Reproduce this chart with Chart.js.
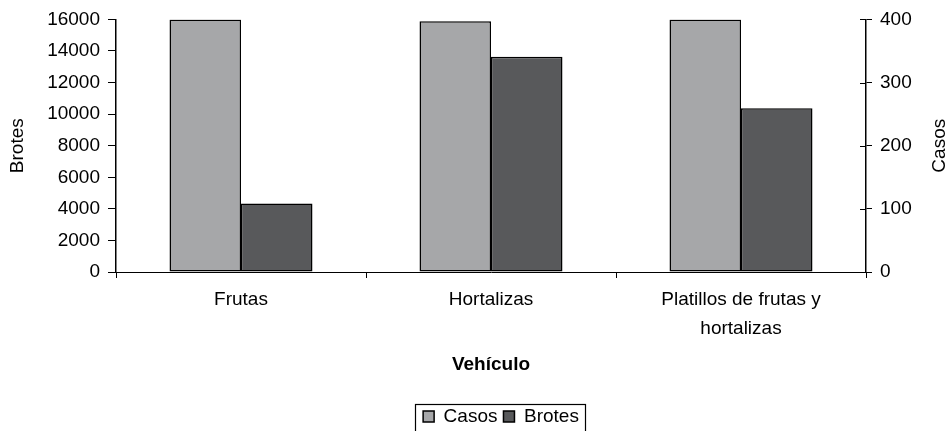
<!DOCTYPE html>
<html>
<head>
<meta charset="utf-8">
<script src="https://cdn.jsdelivr.net/npm/chart.js@4.4.0/dist/chart.umd.min.js"></script>
<style>
  html, body { margin: 0; padding: 0; background: #fff; }
</style>
</head>
<body>
<canvas id="vehiculoChart" width="950" height="431"></canvas>
<script>
// datos
const vehiculos = ['Frutas', 'Hortalizas', ['Platillos de frutas y', 'hortalizas']];
const casos = [400, 397, 400];
const brotes = [4340, 13630, 10380];
const brotesMax = 16000, brotesStep = 2000;
const casosMax = 400, casosStep = 100;

const fuente = "'Liberation Sans', Arial, sans-serif";
const tam = 19;
const negro = '#000';

// marco de la leyenda, titulo derecho y marcas del eje derecho hacia dentro
const extras = {
  id: 'extras',
  afterLayout(chart) {
    const lg = chart.legend;
    const dx = 26, dy = 5;
    lg.left += dx; lg.right += dx;
    lg.top += dy; lg.bottom += dy;
    (lg.legendHitBoxes || []).forEach(h => { h.left += dx; });
  },
  afterDraw(chart) {
    const c = chart.ctx;
    const y1 = chart.scales.y1;
    c.save();
    c.strokeStyle = negro;
    c.lineWidth = 1;
    y1.ticks.forEach(t => {
      const py = Math.round(y1.getPixelForValue(t.value)) + 0.5;
      c.beginPath();
      c.moveTo(y1.left - 6, py);
      c.lineTo(y1.left, py);
      c.stroke();
    });
    const hb = chart.legend.legendHitBoxes;
    if (hb && hb.length) {
      const x0 = Math.min(...hb.map(h => h.left)) - 8;
      const x1 = Math.max(...hb.map(h => h.left + h.width)) + 6;
      const yt = Math.min(...hb.map(h => h.top)) - 3;
      c.lineWidth = 1.2;
      c.strokeRect(Math.round(x0) + 0.5, Math.round(yt) + 0.5, Math.round(x1 - x0), 60);
    }
    // titulo del eje derecho, leido de abajo hacia arriba
    const a = chart.chartArea;
    c.translate(940, (a.top + a.bottom) / 2);
    c.rotate(-Math.PI / 2);
    c.fillStyle = negro;
    c.font = tam + 'px ' + fuente;
    c.textAlign = 'center';
    c.textBaseline = 'middle';
    c.fillText('Casos', 0, 0);
    c.restore();
  }
};

const ctx = document.getElementById('vehiculoChart').getContext('2d');
new Chart(ctx, {
  type: 'bar',
  data: {
    labels: vehiculos,
    datasets: [{
      label: 'Casos',
      data: casos,
      yAxisID: 'y1',
      backgroundColor: '#a6a7a9',
      borderColor: negro,
      borderWidth: 1.5,
      borderSkipped: false
    }, {
      label: 'Brotes',
      data: brotes,
      yAxisID: 'y',
      backgroundColor: '#58595b',
      borderColor: negro,
      borderWidth: 1.5,
      borderSkipped: false
    }]
  },
  options: {
    responsive: false,
    animation: false,
    categoryPercentage: 0.572,
    barPercentage: 1,
    layout: { padding: { top: 8, left: 0, right: 0, bottom: 0 } },
    plugins: {
      tooltip: { enabled: false },
      legend: {
        position: 'bottom',
        labels: {
          color: negro,
          font: { family: fuente, size: tam },
          boxWidth: 11,
          boxHeight: 11,
          padding: 6
        }
      }
    },
    scales: {
      x: {
        grid: { display: true, drawOnChartArea: false, color: negro, tickLength: 6 },
        border: { color: negro, width: 1 },
        ticks: { color: negro, font: { family: fuente, size: tam, lineHeight: 1.5 }, padding: 8, maxRotation: 0 },
        title: {
          display: true,
          text: 'Vehículo',
          color: negro,
          font: { family: fuente, size: tam, weight: 'bold' },
          padding: { top: 0, bottom: 20 }
        },
        afterFit(scale) { scale.height = 124; }
      },
      y: {
        position: 'left',
        min: 0,
        max: brotesMax,
        grid: { display: true, drawOnChartArea: false, color: negro, tickLength: 8 },
        border: { color: negro, width: 1.5 },
        ticks: { stepSize: brotesStep, color: negro, font: { family: fuente, size: tam }, padding: 8, callback: v => String(v) },
        title: {
          display: true,
          text: 'Brotes',
          color: negro,
          font: { family: fuente, size: tam },
          padding: { top: 6, bottom: 0 }
        },
        afterFit(scale) { scale.width = 116; }
      },
      y1: {
        position: 'right',
        min: 0,
        max: casosMax,
        grid: { display: true, drawOnChartArea: false, color: negro, tickLength: 6 },
        border: { color: negro, width: 1.5 },
        ticks: { stepSize: casosStep, color: negro, font: { family: fuente, size: tam }, padding: 8, callback: v => String(v) },
        title: { display: false },
        afterFit(scale) { scale.width = 84; }
      }
    }
  },
  plugins: [extras]
});
</script>
</body>
</html>
